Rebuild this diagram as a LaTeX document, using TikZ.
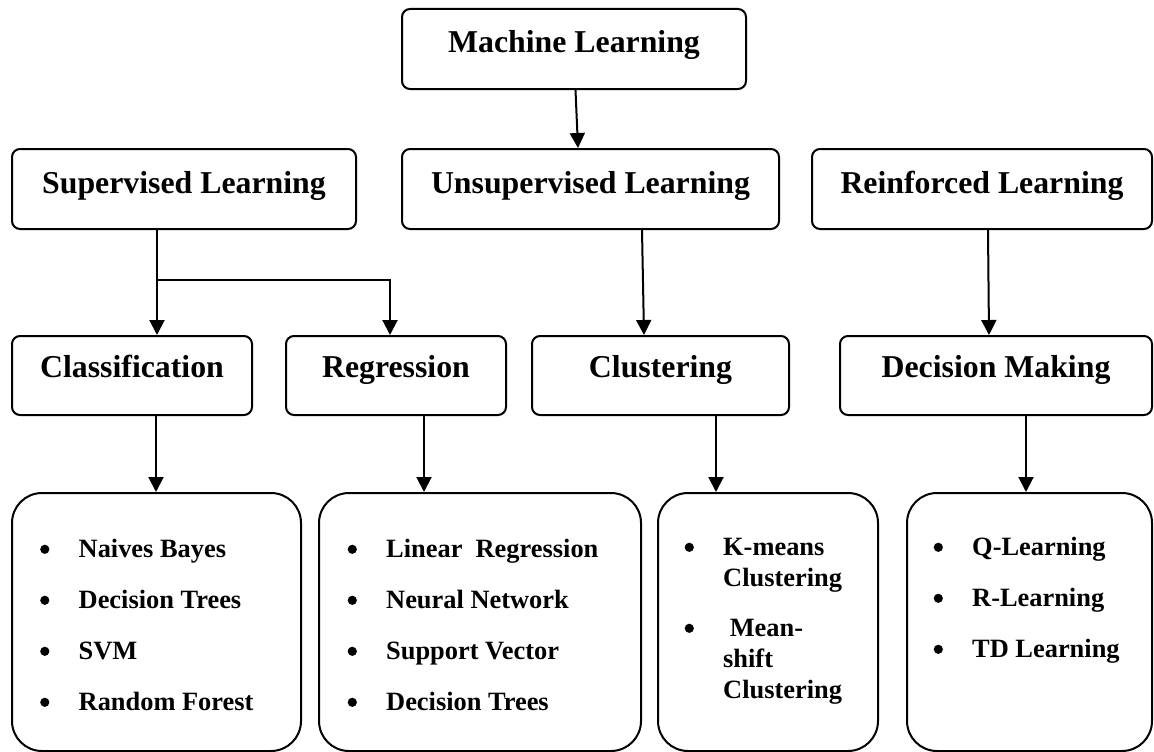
\documentclass[tikz,border=0pt]{standalone}
\usepackage{fontspec}
\setmainfont{Liberation Serif}
\usetikzlibrary{arrows.meta,calc}
% round list marker, a little larger than the text bullet
\newcommand\listdot{\tikz[baseline=0pt]{\path (0pt,0pt); \fill (4.6pt,7.7pt) circle[radius=4.6pt];}}
\begin{document}
\begin{tikzpicture}[x=1pt,y=-1pt,
  line width=2pt,
  catbox/.style={draw, rounded corners=8pt, minimum height=80pt, inner sep=0pt,
    text height=22pt, text depth=14pt, font=\fontsize{31.8}{38}\selectfont\bfseries},
  subbox/.style={catbox, minimum height=79pt, text height=20pt, text depth=16pt},
  listbox/.style={draw, rounded corners=30pt, minimum height=258pt, inner sep=0pt},
  listtext/.style={anchor=base west, inner sep=0pt,
    font=\fontsize{26.4}{31}\selectfont\bfseries},
  arr/.style={-{Triangle[width=15pt,length=15pt]}, line width=2pt},
]
\useasboundingbox (0,0) rectangle (1154,752);

% top level
\node[catbox, minimum width=344pt] (ml) at (574,49) {Machine Learning};

% learning paradigms
\node[catbox, minimum width=344pt] (sup)   at (184,189)   {Supervised Learning};
\node[catbox, minimum width=377pt] (unsup) at (590.5,189) {Unsupervised Learning};
\node[catbox, minimum width=340pt] (reinf) at (982,189)   {Reinforced Learning};

% task types
\node[subbox, minimum width=240pt] (class) at (132,375.5)   {Classification};
\node[subbox, minimum width=220pt] (regr)  at (396,375.5)   {Regression};
\node[subbox, minimum width=257pt] (clust) at (660.5,375.5) {Clustering};
\node[subbox, minimum width=312pt] (dm)    at (996,375.5)   {Decision Making};

% algorithm lists
\node[listbox, minimum width=289pt] (l1) at (156.5,622)  {};
\node[listbox, minimum width=322pt] (l2) at (480,622)    {};
\node[listbox, minimum width=220pt] (l3) at (768,622)    {};
\node[listbox, minimum width=245pt] (l4) at (1029.5,622) {};

\node[listtext] (t1) at ($(l1.north west)+(29,65)$) {%
  \begin{tabular}[t]{@{}p{38.5pt}@{}l@{}}
  \listdot & Naives Bayes\\[20pt]
  \listdot & Decision Trees\\[20pt]
  \listdot & SVM\\[20pt]
  \listdot & Random Forest
  \end{tabular}};
\node[listtext] (t2) at ($(l2.north west)+(29.5,65)$) {%
  \begin{tabular}[t]{@{}p{38.5pt}@{}l@{}}
  \listdot & Linear\ \ Regression\\[20pt]
  \listdot & Neural Network\\[20pt]
  \listdot & Support Vector\\[20pt]
  \listdot & Decision Trees
  \end{tabular}};
\node[listtext] (t3) at ($(l3.north west)+(27.5,63)$) {%
  \begin{tabular}[t]{@{}p{38.5pt}@{}l@{}}
  \listdot & K-means\\
           & Clustering\\[19pt]
  \listdot & \ Mean-\\
           & shift\\
           & Clustering
  \end{tabular}};
\node[listtext] (t4) at ($(l4.north west)+(27.5,63)$) {%
  \begin{tabular}[t]{@{}p{38.5pt}@{}l@{}}
  \listdot & Q-Learning\\[20pt]
  \listdot & R-Learning\\[20pt]
  \listdot & TD Learning
  \end{tabular}};

% connectors
\draw[arr] ([xshift=1.5pt]ml.south) -- ([xshift=-12.5pt]unsup.north);

\coordinate (fork) at ([xshift=-27pt,yshift=-50pt]sup.south);
\draw ([xshift=-27pt]sup.south) -- (fork);
\draw[arr] (fork) -- (fork |- class.north);
\draw[arr] (fork) -| ([xshift=-6pt]regr.north);

\draw[arr] ([xshift=51.5pt]unsup.south) -- ([xshift=-16.5pt]clust.north);
\draw[arr] ([xshift=6pt]reinf.south) -- ([xshift=-7pt]dm.north);

\draw[arr] ([xshift=24pt]class.south)   -- ([xshift=-0.5pt]l1.north);
\draw[arr] ([xshift=28pt]regr.south)    -- ([xshift=-56pt]l2.north);
\draw[arr] ([xshift=55.5pt]clust.south) -- ([xshift=-52pt]l3.north);
\draw[arr] ([xshift=30pt]dm.south)      -- ([xshift=-3.5pt]l4.north);
\end{tikzpicture}
\end{document}
